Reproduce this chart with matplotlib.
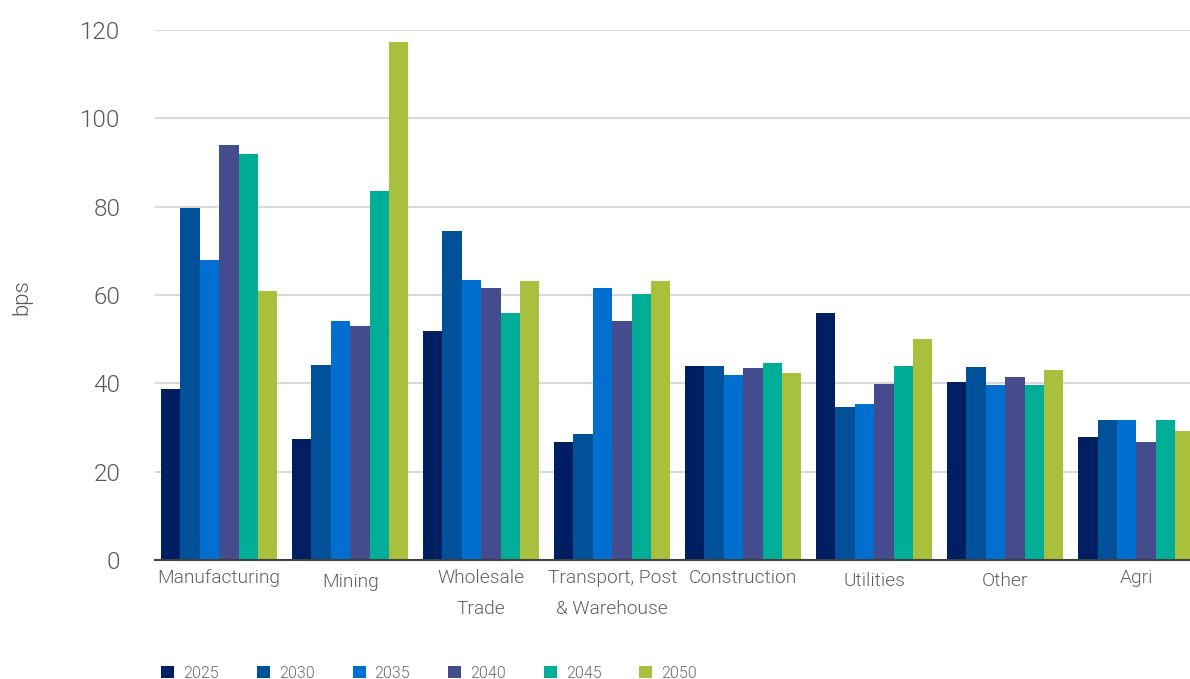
import matplotlib
matplotlib.use("Agg")
import matplotlib.pyplot as plt
import matplotlib.transforms as mtransforms
import numpy as np
from matplotlib.patches import Patch

plt.rcParams['font.family'] = ['Roboto', 'DejaVu Sans']
LIGHT = 300

categories = ["Manufacturing", "Mining", "Wholesale\nTrade", "Transport, Post\n& Warehouse",
              "Construction", "Utilities", "Other", "Agri"]
years = ["2025", "2030", "2035", "2040", "2045", "2050"]

v2025 = [38.7, 27.3, 51.8, 26.7, 43.9, 55.9, 40.2, 27.9]
v2030 = [79.6, 44.2, 74.5, 28.5, 44.0, 34.6, 43.7, 31.6]
v2035 = [67.9, 54.2, 63.5, 61.5, 41.9, 35.4, 39.6, 31.8]
v2040 = [93.9, 52.9, 61.5, 54.1, 43.5, 39.9, 41.4, 26.7]
v2045 = [92.0, 83.6, 56.0, 60.2, 44.7, 44.0, 39.6, 31.8]
v2050 = [60.8, 117.3, 63.2, 63.2, 42.3, 50.0, 43.1, 29.2]
series = [v2025, v2030, v2035, v2040, v2045, v2050]

colors = ["#001e62", "#00509a", "#006fcf", "#444c8e", "#00ae97", "#a8c03b"]
text_gray = "#606060"

W, H = 1190, 679
fig = plt.figure(figsize=(W / 100, H / 100), dpi=100)
ax = fig.add_axes([155 / W, 1 - 560 / H, 1 - 155 / W, 530 / H])

x = np.arange(len(categories))
bw = 0.148
n = len(series)
for i, (vals, c) in enumerate(zip(series, colors)):
    ax.bar(x + (i - (n - 1) / 2) * bw, vals, width=bw, color=c, zorder=3, linewidth=0)

ax.set_ylim(0, 120)
ax.set_xlim(-0.49, 7.41)
ax.set_yticks(np.arange(0, 121, 20))
ax.yaxis.grid(True, color="#d9d9d9", linewidth=1.5, zorder=0)
ax.tick_params(axis="y", length=0, pad=25, labelsize=17.5, labelcolor="#595959")
for lbl in ax.get_yticklabels():
    lbl.set_fontweight(LIGHT)

# category labels, with the slight per-label drop of the single-line short names
ax.set_xticks(x, labels=[])
ax.tick_params(axis="x", length=0)
label_drop = [0, 4, 0, 0, 0, 3, 3, 0]
base = mtransforms.blended_transform_factory(ax.transData, ax.transAxes)
for xi, name, dy in zip(x, categories, label_drop):
    tr = base + mtransforms.ScaledTranslation(0, -(9 + dy) / 100, fig.dpi_scale_trans)
    ax.text(xi, 0, name, transform=tr, ha="center", va="top", fontsize=13.8,
            color=text_gray, fontweight=LIGHT, linespacing=1.93, multialignment="center")

for side in ("top", "right", "left"):
    ax.spines[side].set_visible(False)
ax.spines["bottom"].set_color("#404040")
ax.spines["bottom"].set_linewidth(1.5)
ax.spines["bottom"].set_zorder(4)

fig.text(22 / W, 1 - 297 / H, "bps", rotation=90, ha="center", va="center",
         fontsize=16, color="#595959", fontweight=LIGHT)

handles = [Patch(facecolor=c, edgecolor="none", label=y) for c, y in zip(colors, years)]
leg = fig.legend(handles=handles, loc="center left", bbox_to_anchor=(155 / W, 1 - 673 / H),
                 ncol=6, frameon=False, handlelength=0.82, handleheight=0.82,
                 handletextpad=0.56, columnspacing=2.37, fontsize=11.5, borderaxespad=0)
for t in leg.get_texts():
    t.set_color("#6a6a6a")
    t.set_fontweight(LIGHT)

fig.savefig("out.png", dpi=100, facecolor="white")
